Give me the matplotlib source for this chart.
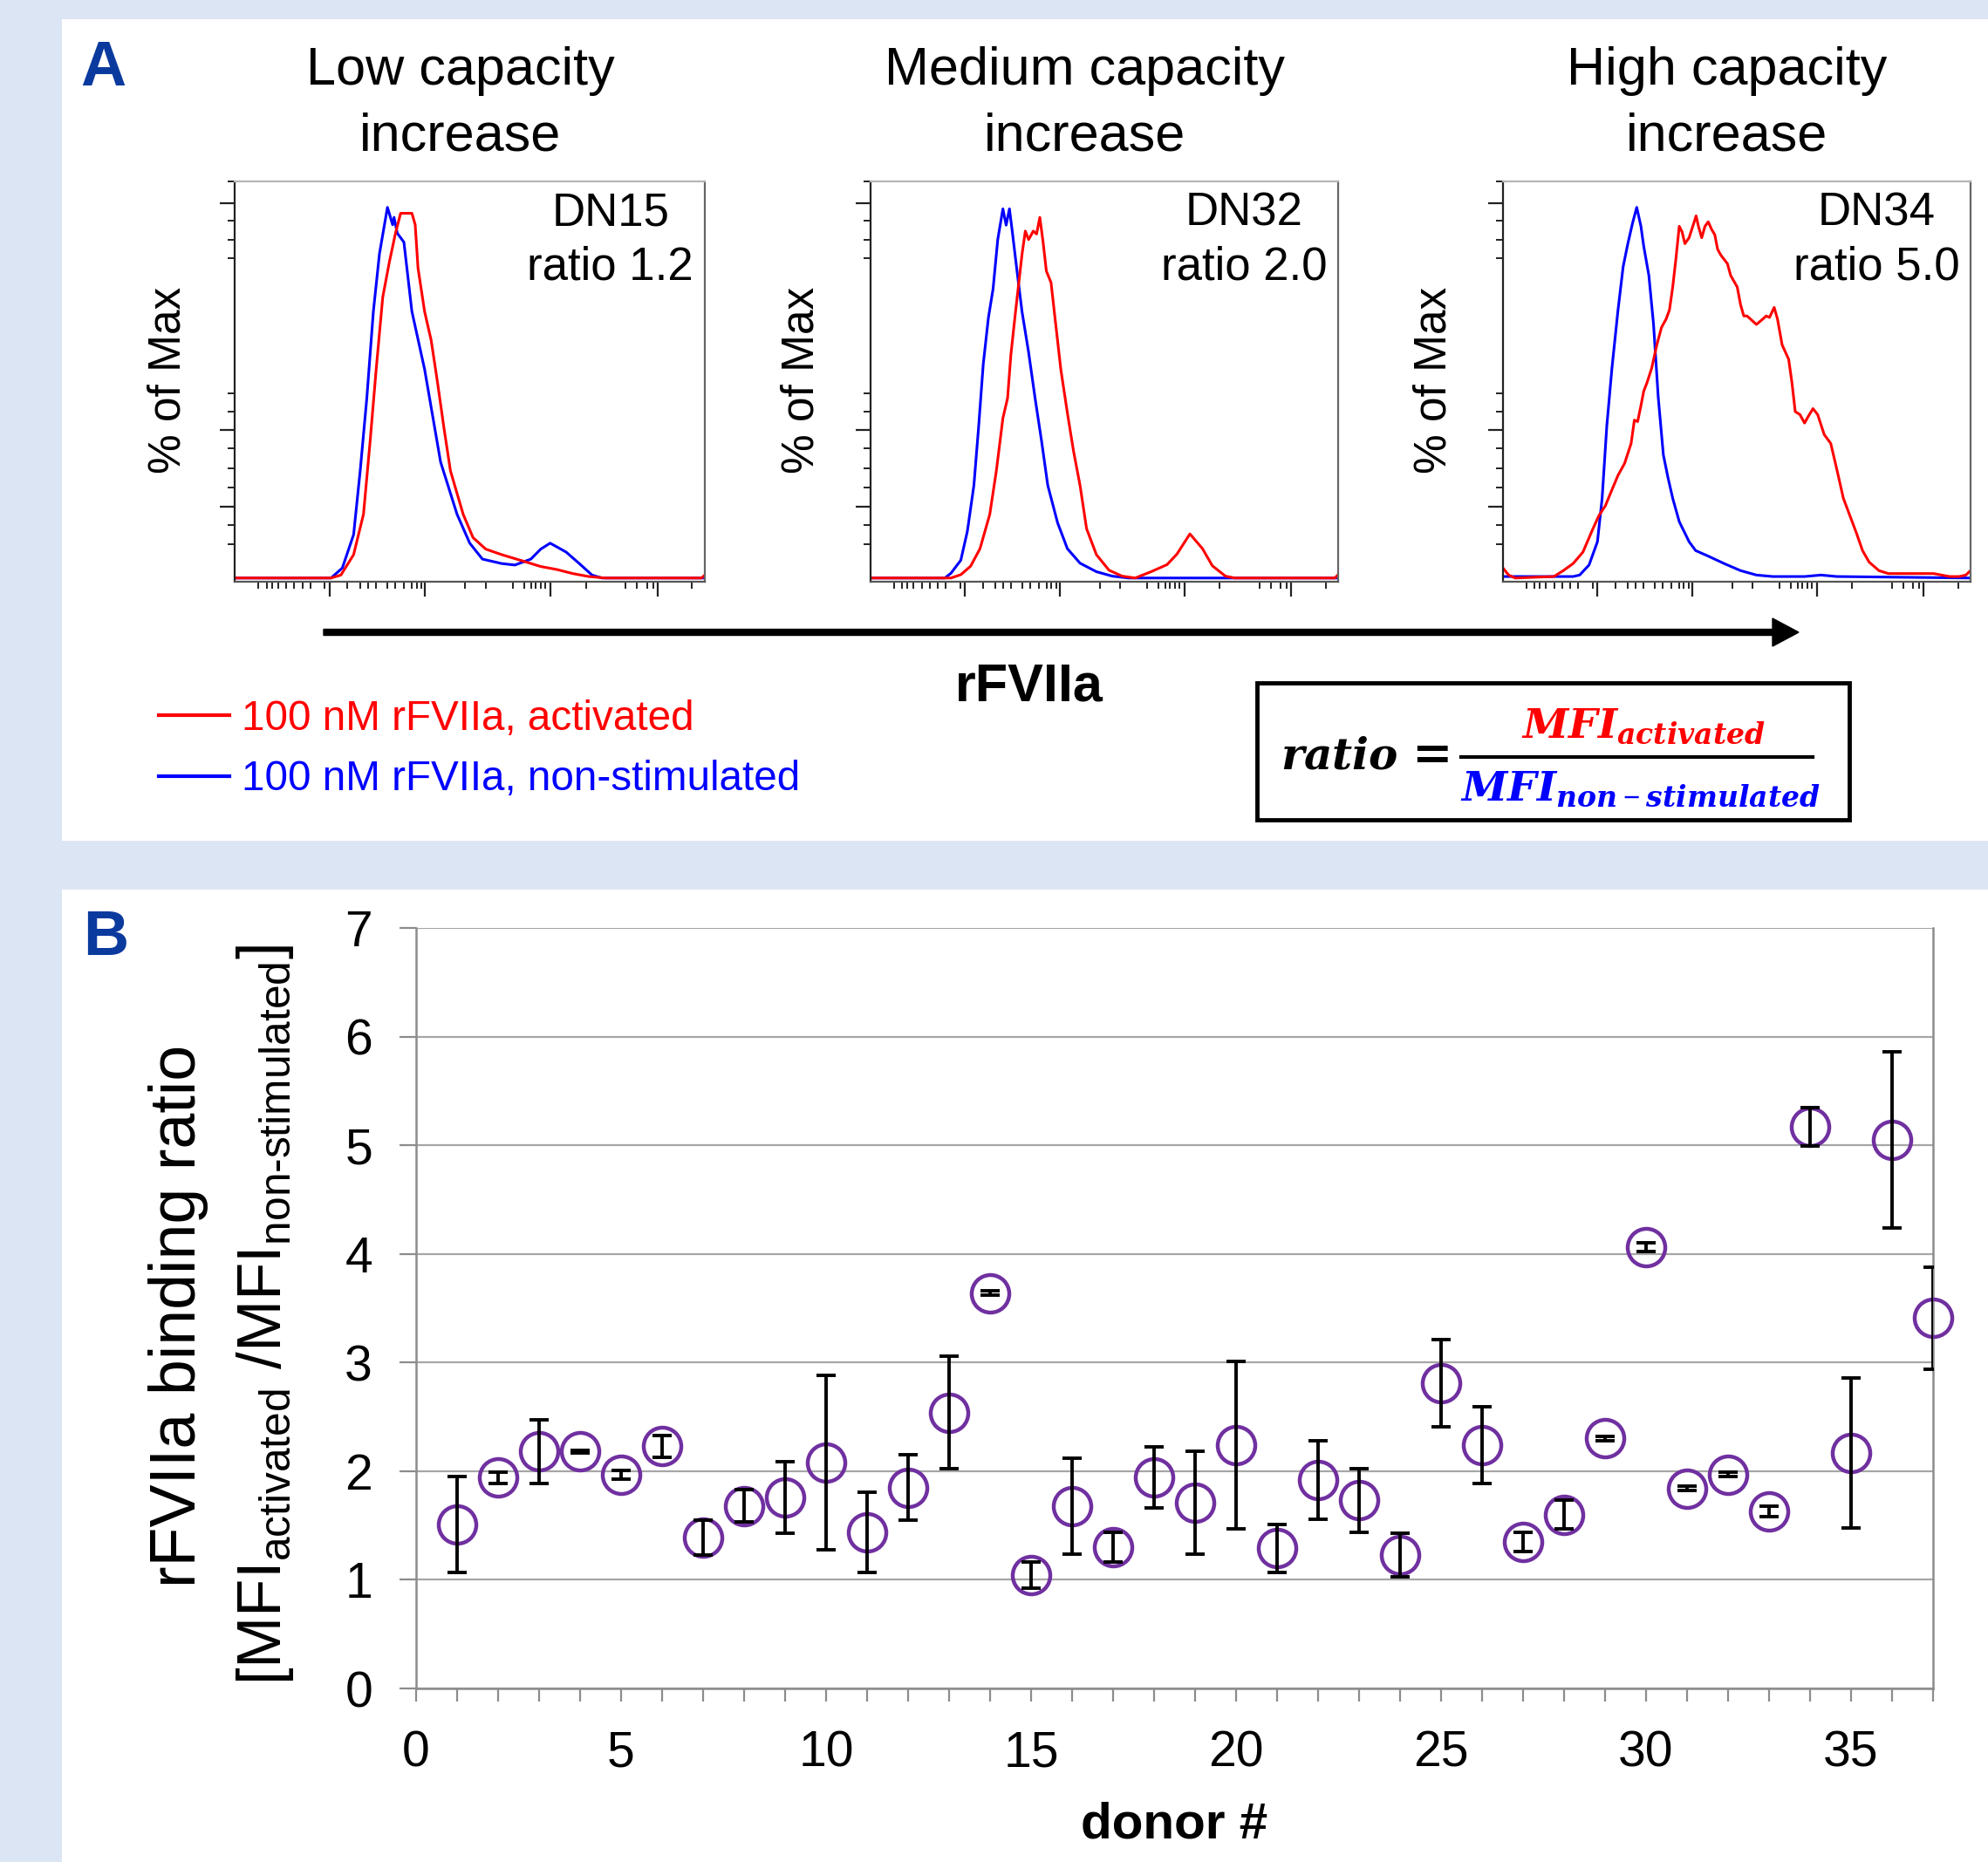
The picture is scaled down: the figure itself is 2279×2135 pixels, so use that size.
import matplotlib
matplotlib.use('Agg')
import matplotlib.pyplot as plt
from matplotlib.patches import Rectangle, FancyArrow

plt.rcParams['font.family'] = ['Liberation Sans', 'DejaVu Sans']
plt.rcParams['mathtext.fontset'] = 'custom'
plt.rcParams['mathtext.rm'] = 'Liberation Sans'
plt.rcParams['mathtext.it'] = 'DejaVu Serif:italic:bold'

# ---------------- data ----------------
panel_titles = ['Low capacity\nincrease', 'Medium capacity\nincrease', 'High capacity\nincrease']
donor_ids = ['DN15', 'DN32', 'DN34']
donor_ratios = ['1.2', '2.0', '5.0']
legend_labels = ['100 nM rFVIIa, activated', '100 nM rFVIIa, non-stimulated']

# histogram curves: (channel % of axis width, % of max)
dn15_blue = [(0, 0), (20.5, 0), (22.9, 2.7), (25.3, 11.7), (26.7, 28.9), (28.1, 48.4), (29.5, 71.9),
             (30.8, 87.5), (32.5, 100), (33.6, 95.3), (33.9, 97.3), (34.6, 93.0), (36.0, 90.6),
             (37.7, 71.9), (40.4, 56.3), (43.8, 31.3), (47.3, 17.2), (50.0, 9.4), (52.7, 5.1),
             (56.8, 3.9), (59.6, 3.5), (63.0, 5.1), (65.1, 7.8), (67.1, 9.4), (70.5, 7.0),
             (73.3, 3.9), (76.0, 0.8), (78.1, 0), (100, 0)]
dn15_red = [(0, 0), (20.5, 0), (22.6, 0.8), (25.3, 6.3), (27.4, 17.2), (28.8, 36.7), (30.1, 56.3),
            (31.5, 75.8), (32.9, 85.2), (34.2, 93.0), (35.3, 98.4), (37.7, 98.4), (38.4, 95.3),
            (39.0, 83.6), (40.4, 71.9), (41.8, 64.1), (43.2, 52.3), (44.5, 40.6), (45.9, 28.9),
            (48.6, 17.2), (50.7, 10.9), (53.4, 7.8), (56.8, 6.3), (61.0, 4.7), (65.1, 3.1),
            (68.5, 2.3), (71.9, 1.2), (75.3, 0.4), (78.8, 0), (99.3, 0), (100, 0.8)]
dn32_blue = [(0, 0), (15.9, 0), (17.2, 1.3), (19.3, 4.8), (20.7, 12.6), (22.1, 25.0), (23.1, 40.6),
             (24.1, 57.7), (25.2, 70.2), (26.2, 78.0), (27.2, 91.3), (28.3, 99.6), (29.0, 95.2),
             (29.7, 99.6), (30.3, 93.6), (31.4, 82.0), (32.4, 71.8), (33.8, 60.9), (35.2, 48.4),
             (36.6, 36.7), (37.9, 25.0), (40.0, 14.9), (42.1, 7.9), (44.8, 4.0), (48.3, 1.7),
             (51.7, 0.5), (55.2, 0), (100, 0)]
dn32_red = [(0, 0), (17.2, 0), (19.3, 0.9), (21.4, 3.2), (23.4, 7.9), (25.5, 17.2), (26.9, 28.9),
            (28.3, 43.1), (29.3, 48.5), (30.0, 60.1), (31.0, 71.8), (32.4, 87.4), (33.1, 93.6),
            (33.8, 91.3), (34.8, 93.6), (35.5, 92.8), (36.2, 97.3), (36.9, 90.6), (37.6, 82.8),
            (38.6, 79.7), (39.3, 71.8), (40.7, 56.2), (42.1, 44.5), (43.4, 34.3), (44.8, 25.0),
            (46.2, 13.3), (48.3, 6.3), (51.0, 2.1), (53.8, 0.5), (56.6, 0), (60.0, 1.7),
            (63.4, 3.6), (65.5, 6.4), (68.3, 11.9), (71.0, 7.9), (73.1, 3.3), (75.9, 0.5),
            (77.9, 0), (99.3, 0), (100, 0.9)]
dn34_blue = [(0, 0.4), (15.0, 0.4), (16.4, 0.8), (18.4, 3.5), (20.2, 9.8), (21.2, 21.5), (22.2, 41.0),
             (23.3, 56.6), (24.6, 72.3), (25.7, 84.0), (26.7, 90.2), (27.7, 95.7), (28.6, 100),
             (29.5, 94.9), (30.1, 89.5), (31.2, 81.6), (32.2, 68.4), (33.2, 48.8), (34.3, 33.2),
             (35.3, 27.0), (36.3, 21.5), (37.7, 15.2), (39.8, 9.8), (41.2, 7.4), (43.9, 5.9),
             (47.3, 3.9), (50.8, 2.0), (54.2, 0.8), (57.7, 0.4), (64.5, 0.4), (68.0, 0.8),
             (71.4, 0.4), (100, 0)]
dn34_red = [(0, 2.7), (1.2, 0.8), (2.6, 0), (10.9, 0.4), (12.9, 2.0), (15.0, 3.9), (17.1, 7.0),
            (19.1, 12.9), (20.5, 16.8), (21.9, 19.5), (23.3, 23.8), (24.6, 27.7), (26.0, 30.9),
            (27.4, 36.3), (28.1, 42.6), (28.8, 42.2), (29.5, 46.5), (30.1, 50.4), (30.8, 52.7),
            (31.8, 56.6), (32.9, 62.9), (33.9, 67.6), (34.9, 69.9), (35.6, 72.3), (36.3, 78.5),
            (37.0, 86.3), (37.7, 94.9), (38.3, 93.4), (38.9, 90.2), (39.8, 91.8), (40.8, 95.7),
            (41.3, 97.7), (41.8, 94.9), (42.5, 91.8), (43.2, 94.9), (43.9, 96.1), (44.6, 94.1),
            (45.3, 92.6), (45.9, 88.7), (46.6, 87.1), (48.0, 84.8), (48.7, 81.6), (50.1, 78.5),
            (50.8, 73.8), (51.5, 70.7), (52.2, 70.7), (52.9, 69.9), (54.2, 68.4), (55.6, 69.9),
            (56.3, 70.7), (57.0, 70.3), (58.0, 73.0), (58.7, 69.9), (59.7, 62.9), (61.1, 59.0),
            (61.8, 52.7), (62.5, 44.9), (63.5, 44.1), (64.5, 41.8), (65.2, 43.4), (66.3, 45.7),
            (67.3, 44.1), (68.7, 38.7), (70.1, 36.3), (71.4, 29.3), (72.8, 21.5), (74.2, 16.8),
            (75.6, 12.1), (76.9, 7.4), (78.3, 4.3), (80.4, 2.0), (82.4, 1.2), (85.2, 1.2),
            (92.1, 1.2), (95.5, 0.4), (97.6, 0.4), (99.0, 0.8), (100, 2.0)]

# panel B
donors = list(range(1, 38))
ratio_mean = [1.51, 1.94, 2.18, 2.18, 1.97, 2.23, 1.39, 1.68, 1.76, 2.08, 1.44, 1.85, 2.54,
              3.64, 1.04, 1.68, 1.30, 1.94, 1.71, 2.24, 1.29, 1.92, 1.73, 1.23, 2.81, 2.24,
              1.35, 1.60, 2.30, 4.06, 1.84, 1.97, 1.63, 5.17, 2.17, 5.05, 3.41]
ratio_err = [0.44, 0.05, 0.29, 0.01, 0.04, 0.10, 0.16, 0.15, 0.33, 0.80, 0.37, 0.30, 0.52,
             0.02, 0.12, 0.44, 0.14, 0.28, 0.47, 0.77, 0.22, 0.36, 0.29, 0.20, 0.40, 0.35,
             0.09, 0.13, 0.02, 0.04, 0.02, 0.02, 0.05, 0.18, 0.69, 0.81, 0.47]
x_ticks_B = [0, 5, 10, 15, 20, 25, 30, 35]
y_ticks_B = [0, 1, 2, 3, 4, 5, 6, 7]

# ---------------- figure ----------------
W, H = 2279, 2135
BG = '#dce5f3'
fig = plt.figure(figsize=(W / 100, H / 100), dpi=100, facecolor=BG)


def fbox(x0, y0, x1, y1):
    return [x0 / W, 1 - y1 / H, (x1 - x0) / W, (y1 - y0) / H]


def fx(px):
    return px / W


def fy(py):
    return 1 - py / H


ax_bg = fig.add_axes([0, 0, 1, 1], zorder=-10)
ax_bg.set_xlim(0, W)
ax_bg.set_ylim(H, 0)
ax_bg.axis('off')
ax_bg.add_patch(Rectangle((71, 22), W - 71, 964 - 22, facecolor='white', edgecolor='none'))
ax_bg.add_patch(Rectangle((71, 1020), W - 71, H - 1020, facecolor='white', edgecolor='none'))

# panel labels
fig.text(fx(92), fy(79), 'A', fontsize=52, fontweight='bold', color='#0b3a9e', ha='left', va='center')
fig.text(fx(95), fy(1076), 'B', fontsize=52, fontweight='bold', color='#0b3a9e', ha='left', va='center')

# ---------------- panel A histograms ----------------
hist_boxes = [(269, 208, 808, 667), (998, 208, 1534, 667), (1723, 208, 2259, 667)]
title_x = [528, 1243, 1980]
ylabel_x = [193, 919, 1644]
curves = [(dn15_blue, dn15_red), (dn32_blue, dn32_red), (dn34_blue, dn34_red)]

YL0, YL1 = -1, 107
maj_y_frac = [0.946, 0.380, 0.188]
min_y_frac = [1.0, 0.902, 0.855, 0.808, 0.471, 0.424, 0.333, 0.283, 0.236, 0.141, 0.094]
maj_x_pos = [20.2, 40.4, 67.1, 90.0]
min_x_pos = [5.1, 6.8, 7.9, 9.2, 11.0, 12.7, 14.4, 16.1, 19.2, 24.0, 26.7, 28.4, 30.1, 32.5,
             34.2, 36.0, 37.7, 38.7, 39.7, 49.0, 53.4, 59.2, 61.6, 63.0, 64.0, 65.1, 66.1,
             74.7, 83.2, 85.6, 87.7, 89.0, 97.3]

leg_handles = None
for i in range(3):
    ax = fig.add_axes(fbox(*hist_boxes[i]))
    blue, red = curves[i]
    hb, = ax.plot([p[0] for p in blue], [p[1] for p in blue], color='#0000ff', lw=2.2)
    hr, = ax.plot([p[0] for p in red], [p[1] for p in red], color='#ff0000', lw=2.2)
    if leg_handles is None:
        leg_handles = [hr, hb]
    ax.set_xlim(0, 100)
    ax.set_ylim(YL0, YL1)
    ax.spines['left'].set_color('#222222')
    ax.spines['bottom'].set_color('#555555')
    ax.spines['top'].set_color('#b5b5b5')
    ax.spines['right'].set_color('#666666')
    for sp in ax.spines.values():
        sp.set_linewidth(1.6)
    ax.set_xticks(maj_x_pos)
    ax.set_xticks(min_x_pos, minor=True)
    ax.set_yticks([YL0 + f * (YL1 - YL0) for f in maj_y_frac])
    ax.set_yticks([YL0 + f * (YL1 - YL0) for f in min_y_frac], minor=True)
    ax.tick_params(which='major', direction='out', length=12, width=1.6, color='#222222',
                   labelbottom=False, labelleft=False)
    ax.tick_params(which='minor', direction='out', length=6, width=1.4, color='#222222')
    ax.text(0.976, 0.975, donor_ids[i] + '\nratio ' + donor_ratios[i], transform=ax.transAxes,
            ha='right', va='top', multialignment='center', fontsize=38, linespacing=1.32)
    fig.text(fx(title_x[i]), fy(119), panel_titles[i], ha='center', va='center', fontsize=44,
             linespacing=1.42)
    fig.text(fx(ylabel_x[i]), fy(436), '% of Max', rotation=90, ha='center', va='center', fontsize=37)

# arrow and axis name
ax_bg.add_patch(FancyArrow(371, 725, 2062 - 371, 0, width=7, head_width=32, head_length=30,
                           length_includes_head=True, color='black'))
ax_bg.text(1180, 788, 'rFVIIa', fontsize=44, fontweight='bold', ha='center', va='center')

# legend
fig.legend(leg_handles, legend_labels, loc='center left', bbox_to_anchor=(fx(182), fy(859)),
           frameon=False, fontsize=34.3, handlelength=1.69, handletextpad=0.3, labelspacing=0.52,
           borderpad=0, borderaxespad=0, labelcolor='linecolor')
for ln in fig.legends[0].get_lines():
    ln.set_linewidth(3)

# formula box
ax_bg.add_patch(Rectangle((1441, 783), 2120 - 1441, 940 - 783, facecolor='white',
                          edgecolor='black', lw=3.5))
ax_bg.text(1468, 868, r'$ratio$', fontsize=36, ha='left', va='center', color='black')
ax_bg.text(1641, 866, '=', fontsize=40, ha='center', va='center', color='black',
           family='DejaVu Serif', fontweight='bold')
ax_bg.plot([1675, 2078], [868, 868], color='black', lw=3)
ax_bg.text(1884, 846, r'$MFI_{activated}$', fontsize=34, ha='center', va='baseline', color='#ff0000')
ax_bg.text(1880, 918, r'$MFI_{non-stimulated}$', fontsize=34, ha='center', va='baseline', color='#0000ff')

# ---------------- panel B ----------------
axB = fig.add_axes(fbox(477, 1064, 2216, 1936))
axB.plot(donors, ratio_mean, linestyle='none', marker='o', ms=31, mfc='none', mec='#7030a0',
         mew=3.2, clip_on=False, zorder=3)
axB.errorbar(donors, ratio_mean, yerr=ratio_err, fmt='none', ecolor='black', elinewidth=2.8,
             capsize=8, capthick=2.8, zorder=4)
axB.set_xlim(0, 37)
axB.set_ylim(0, 7)
axB.set_yticks(y_ticks_B)
axB.set_xticks(x_ticks_B)
axB.set_xticks(range(0, 38), minor=True)
axB.grid(axis='y', color='#a6a6a6', lw=1.6, zorder=0)
axB.set_axisbelow(True)
for s in ['left', 'right', 'bottom']:
    axB.spines[s].set_color('#8c8c8c')
    axB.spines[s].set_linewidth(1.8)
axB.spines['top'].set_visible(False)
axB.tick_params(axis='y', which='major', length=14, width=1.6, color='#8c8c8c', labelsize=41, pad=22)
axB.tick_params(axis='x', which='both', length=11, width=1.6, color='#8c8c8c', labelsize=41, pad=23)
axB.set_xlabel('donor #', fontsize=42, fontweight='bold', labelpad=20)
fig.text(fx(205), fy(1509), 'rFVIIa binding ratio', rotation=90, ha='center', va='center', fontsize=53)
fig.text(fx(304), fy(1508),
         r'[MFI$_{\mathrm{activated}}$ /MFI$_{\mathrm{non}\text{-}\mathrm{stimulated}}$]',
         rotation=90, ha='center', va='center', fontsize=51)

fig.savefig('out.png', dpi=100, facecolor=fig.get_facecolor())
